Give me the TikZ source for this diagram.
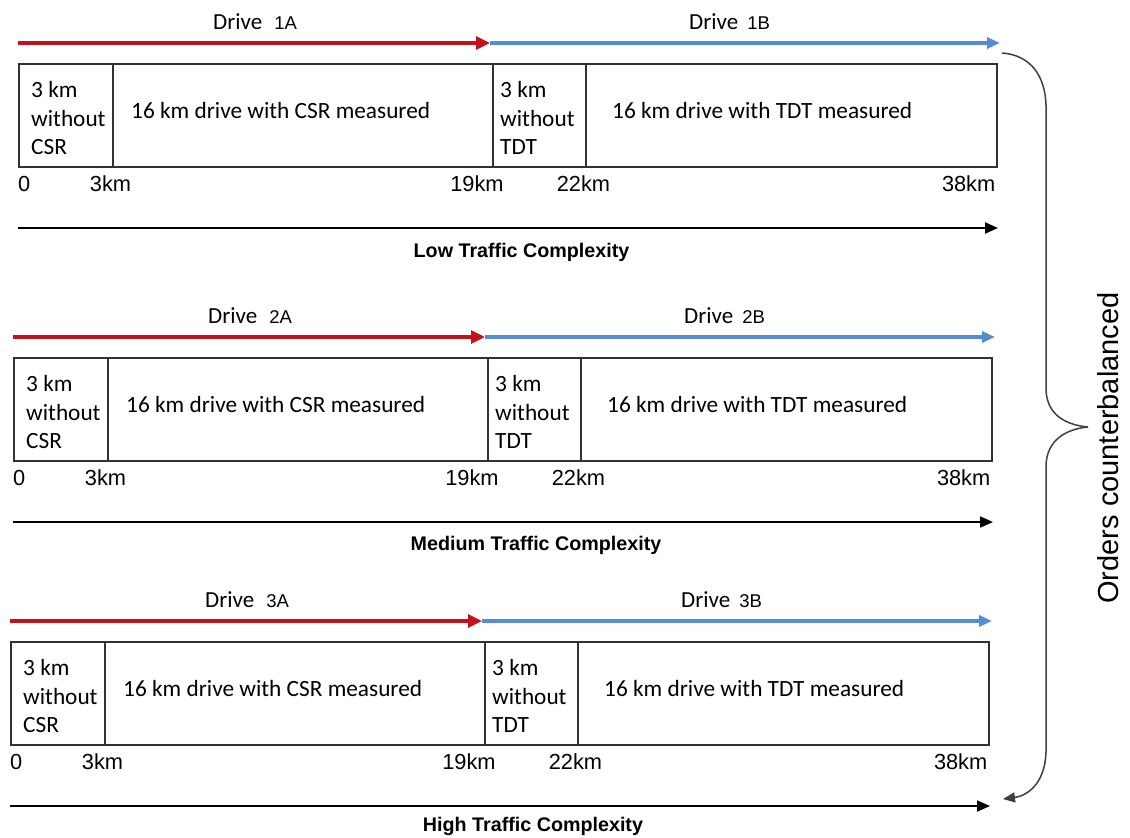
\documentclass[tikz,border=0pt]{standalone}
\usepackage{fontspec}
\setmainfont{Carlito}
\newfontfamily\arialf{Liberation Sans}
\usetikzlibrary{arrows.meta}
\definecolor{drvred}{RGB}{196,18,28}
\definecolor{drvblue}{RGB}{84,141,212}
\definecolor{framegray}{RGB}{50,50,50}

\tikzset{
  seg/.style={draw=framegray,line width=1.7pt,minimum height=103pt,inner sep=0pt,anchor=north west},
  segtext/.style={anchor=west,align=left,inner sep=0pt,font=\fontsize{23.3}{28.5}\selectfont},
  drivelbl/.style={anchor=base west,inner sep=0pt,font=\fontsize{23}{23}\selectfont},
  ticklbl/.style={inner sep=0pt,font=\arialf\fontsize{21.8}{21.8}\selectfont},
  levellbl/.style={inner sep=0pt,font=\arialf\bfseries\fontsize{19.7}{19.7}\selectfont},
  redarr/.style={draw=drvred,line width=3.2pt,-{Triangle[length=14pt,width=13pt]}},
  bluearr/.style={draw=drvblue,line width=3.2pt,-{Triangle[length=13pt,width=11pt]}},
  kmarr/.style={draw=black,line width=1.8pt,-{Triangle[length=13pt,width=11pt]}},
  bracepath/.style={draw=black!75,line width=1.5pt},
}

% one drive panel: #1 index, #2/#3 shift, #4 level word, #5/#6 level label position
\newcommand\drivepanel[6]{%
\begin{scope}[shift={(#2,#3)}]
  % drive labels and the A / B arrows
  \node[drivelbl] (dA#1) at (213,29.5) {Drive\hspace{12pt}{\arialf\fontsize{18.5}{18.5}\selectfont #1A}};
  \node[drivelbl] (dB#1) at (689,29.5) {Drive\hspace{9pt}{\arialf\fontsize{18.5}{18.5}\selectfont #1B}};
  \coordinate (rs#1) at (18,43);
  \coordinate (rm#1) at (490,43);
  \coordinate (re#1) at (1000,43);
  \draw[redarr] (rs#1) -- (rm#1);
  \draw[bluearr] (rm#1) -- (re#1);
  % the four route segments
  \node[seg,minimum width=94pt]  (sa#1) at (18,63)  {};
  \node[seg,minimum width=380pt] (sb#1) at (112,63) {};
  \node[seg,minimum width=93pt]  (sc#1) at (492,63) {};
  \node[seg,minimum width=411pt] (sd#1) at (585,63) {};
  \node[segtext] (ta#1) at ([xshift=13pt,yshift=-3pt]sa#1.west) {3 km\\without\\CSR};
  \node[segtext] (tb#1) at ([xshift=19pt,yshift=4.5pt]sb#1.west) {16 km drive with CSR measured};
  \node[segtext] (tc#1) at ([xshift=8pt,yshift=-3pt]sc#1.west) {3 km\\without\\TDT};
  \node[segtext] (td#1) at ([xshift=27pt,yshift=4.5pt]sd#1.west) {16 km drive with TDT measured};
  % distance marks
  \node[ticklbl,anchor=west] (k0#1) at (18,184) {0};
  \node[ticklbl] (k3#1) at (110.5,184) {3km};
  \node[ticklbl] (k19#1) at (477,184) {19km};
  \node[ticklbl] (k22#1) at (583.5,184) {22km};
  \node[ticklbl,anchor=east] (k38#1) at (995.5,184) {38km};
  % traffic level axis
  \coordinate (ks#1) at (18,228);
  \coordinate (ke#1) at (998,228);
  \draw[kmarr] (ks#1) -- (ke#1);
  \node[levellbl] (lv#1) at (#5,#6) {#4 Traffic Complexity};
\end{scope}}

\begin{document}
\begin{tikzpicture}[x=1pt,y=-1pt]
  \useasboundingbox (0,0) rectangle (1130,838);
  \fill[white] (0,0) rectangle (1130,838);

  \drivepanel{1}{0}{0}{Low}{521.5}{252}
  \drivepanel{2}{-5}{294}{Medium}{541}{251}
  \drivepanel{3}{-8}{578}{High}{541}{248}

  % counterbalancing brace on the right
  \coordinate (bt) at (1002,53);
  \coordinate (btip) at (1088,427);
  \coordinate (bb) at (1003,799);
  \draw[bracepath] (bt) .. controls (1030,55) and (1045,75) .. (1046,105)
      -- (1046,390) .. controls (1047,415) and (1066,425) .. (btip);
  \draw[bracepath,-{Triangle[length=12pt,width=10pt]}] (btip)
      .. controls (1066,429) and (1047,440) .. (1046,465)
      -- (1046,752) .. controls (1045,785) and (1026,796) .. (bb);
  \node[inner sep=0pt,rotate=90,font=\arialf\fontsize{29}{29}\selectfont] (oc) at (1108,448) {Orders counterbalanced};
\end{tikzpicture}
\end{document}
